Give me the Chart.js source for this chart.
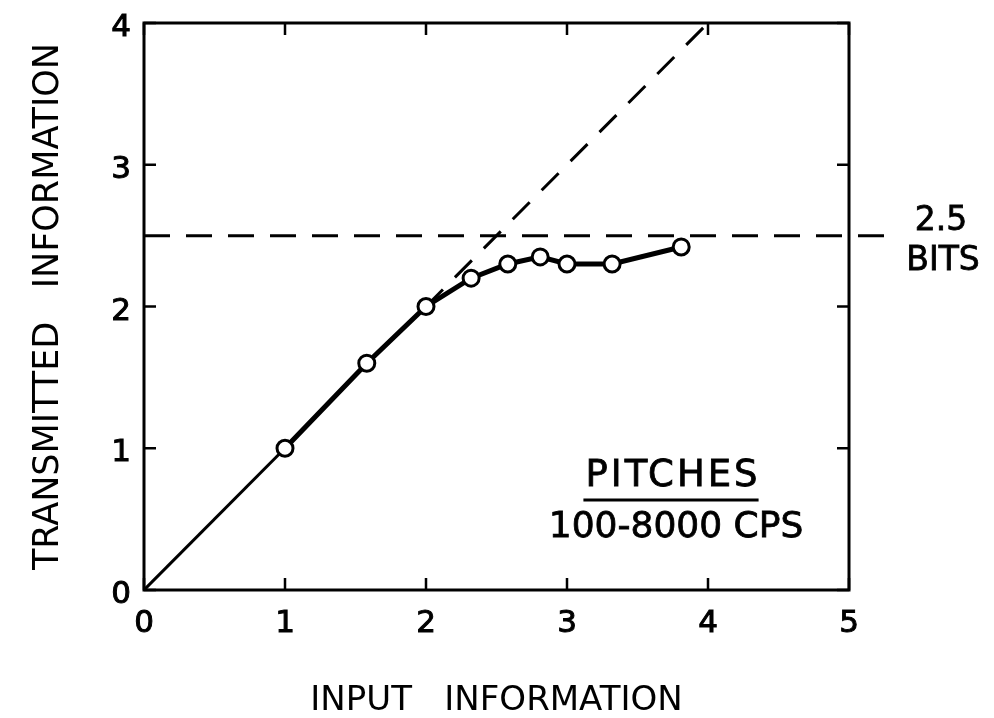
<!DOCTYPE html>
<html>
<head>
<meta charset="utf-8">
<script src="https://cdn.jsdelivr.net/npm/chart.js@4.4.0/dist/chart.umd.min.js"></script>
<style>
  body { margin: 0; background: #fff; }
  #wrap { width: 994px; height: 718px; }
</style>
</head>
<body>
<div id="wrap"><canvas id="infoChart" width="994" height="718"></canvas></div>
<script>
// Transmitted vs input information for pitch judgements
const inputBits = [1, 1.58, 2, 2.32, 2.58, 2.81, 3, 3.32, 3.81];
const transmittedBits = [1.0, 1.6, 2.0, 2.2, 2.3, 2.35, 2.3, 2.3, 2.42];
const originX = [0, 1];
const originY = [0, 1];
const perfectX = [2, 4];
const perfectY = [2, 4];
const limitX = [0, 5.33];
const channelLimit = 2.5;
const xTicks = [0, 1, 2, 3, 4, 5];
const yTicks = [0, 1, 2, 3, 4];
const limitLabel = ['2.5', 'BITS'];
const noteTitle = 'PITCHES';
const noteRange = '100-8000 CPS';

const FONT = "'DejaVu Sans', sans-serif";

function toPoints(xs, ys) {
    return xs.map((x, i) => ({ x: x, y: ys[i] }));
}

// Box around the plot with inward ticks on every side
const framePlugin = {
    id: 'frame',
    beforeDatasetsDraw(chart) {
        const { ctx, chartArea: a, scales: { x, y } } = chart;
        const t = 12;
        ctx.save();
        ctx.strokeStyle = '#000';
        ctx.lineWidth = 3;
        ctx.strokeRect(a.left, a.top, a.right - a.left, a.bottom - a.top);
        ctx.lineWidth = 2.5;
        ctx.beginPath();
        xTicks.forEach(v => {
            const px = x.getPixelForValue(v);
            ctx.moveTo(px, a.bottom); ctx.lineTo(px, a.bottom - t);
            ctx.moveTo(px, a.top); ctx.lineTo(px, a.top + t);
        });
        yTicks.forEach(v => {
            const py = y.getPixelForValue(v);
            ctx.moveTo(a.left, py); ctx.lineTo(a.left + t, py);
            ctx.moveTo(a.right, py); ctx.lineTo(a.right - t, py);
        });
        ctx.stroke();
        ctx.restore();
    }
};

// Channel limit label and the stimulus note
const notesPlugin = {
    id: 'notes',
    afterDraw(chart) {
        const { ctx, chartArea: a, scales: { y } } = chart;
        ctx.save();
        ctx.fillStyle = '#000';
        ctx.strokeStyle = '#000';
        ctx.textAlign = 'center';
        ctx.textBaseline = 'middle';
        ctx.lineWidth = 0.8;

        const ly = y.getPixelForValue(channelLimit);
        ctx.font = `33px ${FONT}`;
        ctx.fillText(limitLabel[0], a.right + 92, ly - 14);
        ctx.strokeText(limitLabel[0], a.right + 92, ly - 14);
        ctx.fillText(limitLabel[1], a.right + 94, ly + 26);
        ctx.strokeText(limitLabel[1], a.right + 94, ly + 26);

        const cx = a.left + 527;
        ctx.font = `37px ${FONT}`;
        ctx.letterSpacing = '3px';
        ctx.fillText(noteTitle, cx + 2, a.top + 453);
        ctx.strokeText(noteTitle, cx + 2, a.top + 453);
        const w = ctx.measureText(noteTitle).width;
        ctx.lineWidth = 3;
        ctx.beginPath();
        ctx.moveTo(cx - w / 2, a.top + 477);
        ctx.lineTo(cx + w / 2, a.top + 477);
        ctx.stroke();

        ctx.lineWidth = 0.8;
        ctx.letterSpacing = '0px';
        ctx.font = `36px ${FONT}`;
        ctx.fillText(noteRange, cx + 5, a.top + 505);
        ctx.strokeText(noteRange, cx + 5, a.top + 505);
        ctx.restore();
    }
};

const ctx = document.getElementById('infoChart').getContext('2d');

new Chart(ctx, {
    type: 'scatter',
    data: {
        datasets: [
            {
                label: 'Pitches',
                data: toPoints(inputBits, transmittedBits),
                showLine: true,
                borderColor: '#000',
                borderWidth: 5,
                pointRadius: 8,
                pointBorderWidth: 3,
                pointBackgroundColor: '#fff',
                pointBorderColor: '#000'
            },
            {
                label: 'Origin',
                data: toPoints(originX, originY),
                showLine: true,
                borderColor: '#000',
                borderWidth: 3,
                pointRadius: 0
            },
            {
                label: 'Perfect transmission',
                data: toPoints(perfectX, perfectY),
                showLine: true,
                borderColor: '#000',
                borderWidth: 3,
                borderDash: [24, 17],
                pointRadius: 0,
                clip: false
            },
            {
                label: 'Channel limit',
                data: toPoints(limitX, limitX.map(() => channelLimit)),
                showLine: true,
                borderColor: '#000',
                borderWidth: 3,
                borderDash: [26, 16],
                pointRadius: 0,
                clip: false
            }
        ]
    },
    options: {
        responsive: false,
        animation: false,
        layout: {
            padding: { left: 0, right: 145, top: 23, bottom: 0 }
        },
        plugins: {
            legend: { display: false },
            tooltip: { enabled: false }
        },
        scales: {
            x: {
                type: 'linear',
                min: 0,
                max: 5,
                afterBuildTicks: scale => { scale.ticks = xTicks.map(v => ({ value: v })); },
                afterFit: scale => {
                    scale.height = 128;
                    scale.paddingLeft = 0;
                    scale.paddingRight = 0;
                },
                grid: { display: false, drawTicks: false },
                border: { display: false },
                ticks: {
                    color: '#000',
                    padding: 15,
                    textStrokeColor: '#000',
                    textStrokeWidth: 1,
                    font: { family: FONT, size: 31 },
                    maxRotation: 0
                },
                title: {
                    display: true,
                    text: 'INPUT   INFORMATION',
                    color: '#000',
                    padding: { top: 0, bottom: 0 },
                    font: { family: FONT, size: 34, lineHeight: 1 }
                }
            },
            y: {
                type: 'linear',
                min: 0,
                max: 4,
                afterBuildTicks: scale => { scale.ticks = yTicks.map(v => ({ value: v })); },
                afterFit: scale => {
                    scale.width = 144;
                    scale.paddingTop = 0;
                    scale.paddingBottom = 0;
                },
                grid: { display: false, drawTicks: false },
                border: { display: false },
                ticks: {
                    color: '#000',
                    padding: 13,
                    labelOffset: 5,
                    textStrokeColor: '#000',
                    textStrokeWidth: 1,
                    font: { family: FONT, size: 31 }
                },
                title: {
                    display: true,
                    text: 'TRANSMITTED   INFORMATION',
                    color: '#000',
                    padding: { top: 31, bottom: 0 },
                    font: { family: FONT, size: 35, lineHeight: 1 }
                }
            }
        }
    },
    plugins: [framePlugin, notesPlugin]
});
</script>
</body>
</html>
